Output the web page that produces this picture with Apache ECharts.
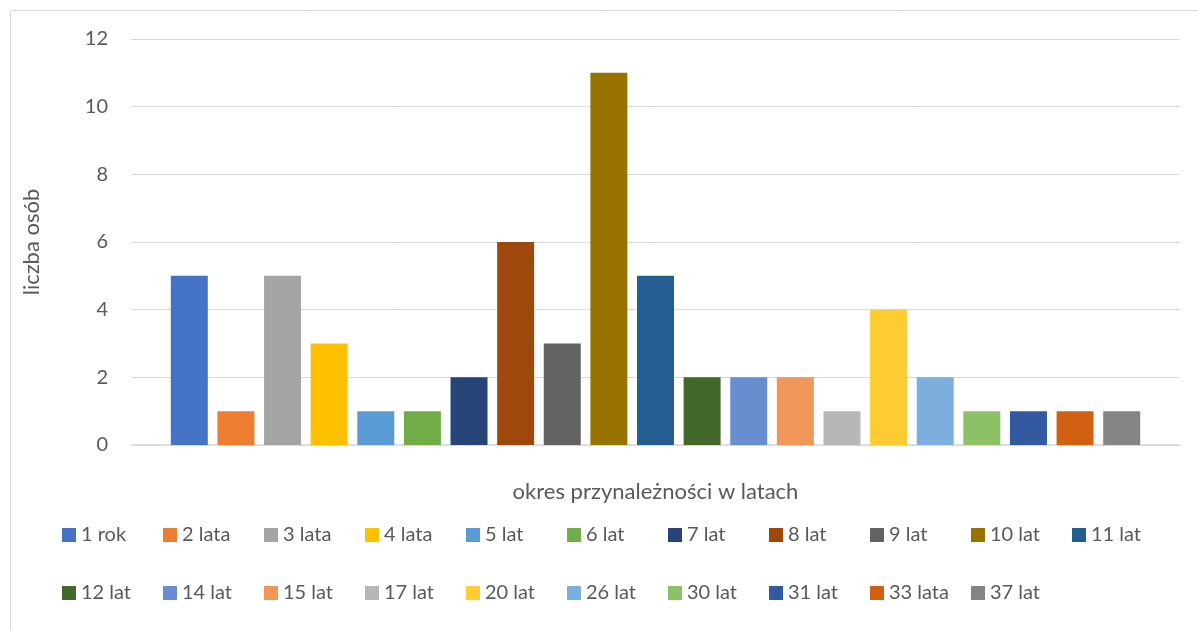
<!DOCTYPE html>
<html>
<head>
<meta charset="utf-8">
<script src="https://cdn.jsdelivr.net/npm/echarts@6/dist/echarts.min.js"></script>
<style>
  html, body { margin: 0; padding: 0; background: #fff; }
  #main { width: 1198px; height: 630px; }
</style>
</head>
<body>
<div id="main"></div>
<script>
var seriesNames = ['1 rok', '2 lata', '3 lata', '4 lata', '5 lat', '6 lat', '7 lat', '8 lat', '9 lat', '10 lat', '11 lat',
  '12 lat', '14 lat', '15 lat', '17 lat', '20 lat', '26 lat', '30 lat', '31 lat', '33 lata', '37 lat'];
var counts = [5, 1, 5, 3, 1, 1, 2, 6, 3, 11, 5, 2, 2, 2, 1, 4, 2, 1, 1, 1, 1];
var colors = ['#4472C4', '#ED7D31', '#A5A5A5', '#FFC000', '#5B9BD5', '#70AD47', '#264478', '#9E480E', '#636363', '#997300', '#255E91',
  '#43682B', '#698ED0', '#F1975A', '#B7B7B7', '#FFCD33', '#7CAFDD', '#8CC168', '#335AA1', '#D26012', '#848484'];
var yTicks = [0, 2, 4, 6, 8, 10, 12];

var chart = echarts.init(document.getElementById('main'));

var font = 'Lato, "Noto Sans", sans-serif';
var textColor = '#595959';

function legendFor(names, top) {
  return {
    data: names,
    left: 62,
    top: top,
    padding: 0,
    orient: 'horizontal',
    itemWidth: 14,
    itemHeight: 14,
    itemGap: 10,
    icon: 'rect',
    selectedMode: false,
    textStyle: {
      color: textColor,
      fontSize: 20,
      fontFamily: font,
      width: 72,
      lineHeight: 14
    }
  };
}

var series = seriesNames.map(function (name, i) {
  return {
    name: name,
    type: 'bar',
    data: [counts[i]],
    barWidth: 37,
    barGap: '26%',
    itemStyle: { color: colors[i] }
  };
});

var option = {
  color: colors,
  animation: false,
  graphic: [{
    type: 'rect',
    shape: { x: 10.5, y: 10.5, width: 1300, height: 800 },
    style: { fill: null, stroke: '#d9d9d9', lineWidth: 1 },
    silent: true
  }],
  grid: {
    left: 131,
    right: 18,
    top: 39,
    bottom: 185
  },
  legend: [
    legendFor(seriesNames.slice(0, 11), 525),
    legendFor(seriesNames.slice(11), 583)
  ],
  xAxis: {
    type: 'category',
    data: [''],
    name: 'okres przynależności w latach',
    nameLocation: 'middle',
    nameGap: 36,
    nameTextStyle: { color: textColor, fontSize: 22, fontFamily: font },
    axisTick: { show: false },
    axisLabel: { show: false },
    axisLine: { lineStyle: { color: '#d9d9d9', width: 1.5 } }
  },
  yAxis: {
    type: 'value',
    min: yTicks[0],
    max: yTicks[yTicks.length - 1],
    interval: 2,
    name: 'liczba osób',
    nameLocation: 'middle',
    nameGap: 88,
    nameTextStyle: { color: textColor, fontSize: 22, fontFamily: font },
    axisLine: { show: false },
    axisTick: { show: false },
    axisLabel: { color: textColor, fontSize: 20, fontFamily: font, margin: 23 },
    splitLine: { lineStyle: { color: '#d9d9d9', width: 1 } }
  },
  series: series
};

chart.setOption(option);
</script>
</body>
</html>
